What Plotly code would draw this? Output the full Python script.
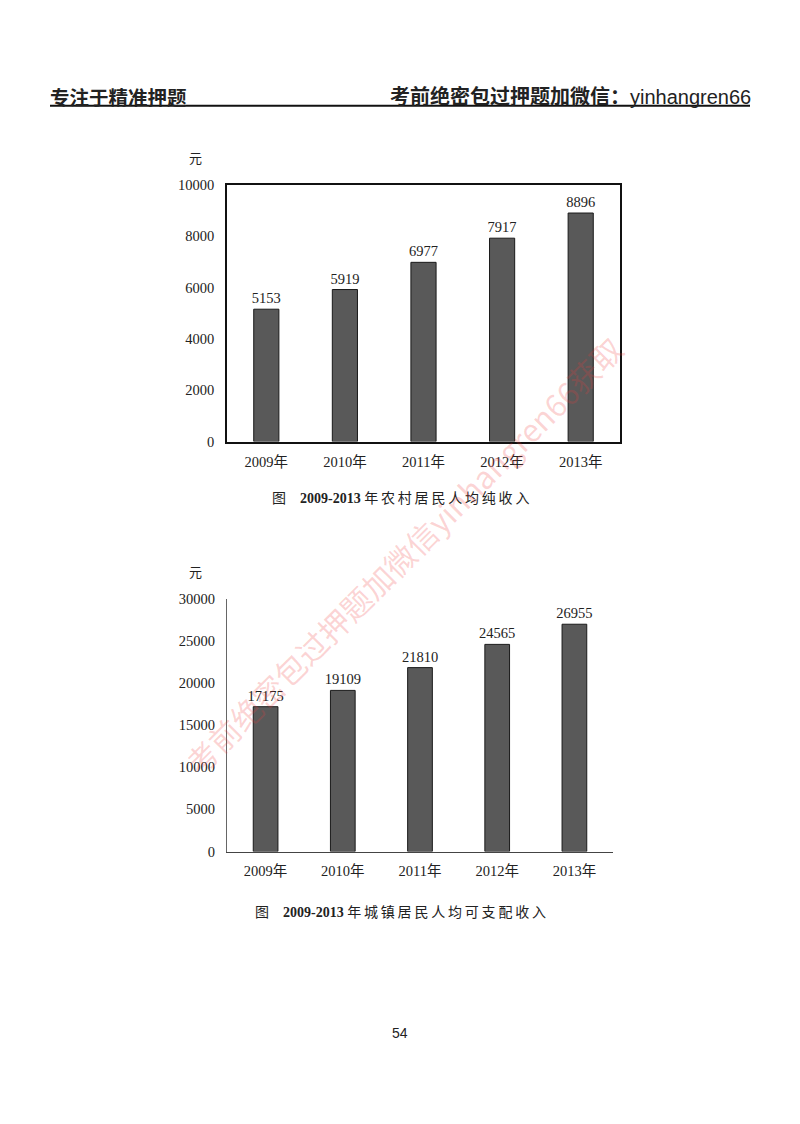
import plotly.graph_objects as go

years = ["2009年", "2010年", "2011年", "2012年", "2013年"]
rural_income = [5153, 5919, 6977, 7917, 8896]
urban_income = [17175, 19109, 21810, 24565, 26955]
rural_ticks = [0, 2000, 4000, 6000, 8000, 10000]
urban_ticks = [0, 5000, 10000, 15000, 20000, 25000, 30000]

W, H = 800, 1124
OFF = 8  # default page body margin
SERIF = "Liberation Serif, Noto Sans CJK SC, serif"
CJK = "Noto Sans CJK SC, sans-serif"
HEAD = "Liberation Sans, Noto Sans CJK SC, sans-serif"

def px(x):
    return (x - OFF) / W

def py(y):
    d = (y - 15.3) / 0.986
    return 1 - d / H

bar_style = dict(marker=dict(color="#595959", line=dict(color="#1a1a1a", width=1)),
                 textposition="outside", cliponaxis=False, constraintext="none",
                 textfont=dict(family=SERIF, size=14.5, color="#222"))

fig = go.Figure()
fig.add_trace(go.Bar(x=years, y=rural_income, text=[str(v) for v in rural_income],
                     xaxis="x", yaxis="y", **bar_style))
fig.add_trace(go.Bar(x=years, y=urban_income, text=[str(v) for v in urban_income],
                     xaxis="x2", yaxis="y2", **bar_style))

tickfont = dict(family=SERIF, size=14.5, color="#222")

fig.update_layout(
    width=W, height=H, margin=dict(l=0, r=0, t=0, b=0),
    paper_bgcolor="white", plot_bgcolor="white",
    showlegend=False, bargap=0.68,
    xaxis=dict(domain=[px(227), px(620)], anchor="y", showline=True, linecolor="#111",
               linewidth=1.5, mirror=True, ticks="outside", ticklen=6,
               tickcolor="rgba(0,0,0,0)", tickfont=tickfont, showgrid=False),
    yaxis=dict(domain=[py(441), py(184)], anchor="x", range=[0, 10000],
               tickvals=rural_ticks, tickformat="d", showline=True, linecolor="#111",
               linewidth=1.5, mirror=True, showgrid=False, zeroline=False, tickfont=tickfont,
               ticks="outside", ticklen=8, tickcolor="rgba(0,0,0,0)"),
    xaxis2=dict(domain=[px(227), px(613)], anchor="y2", showline=True, linecolor="#444",
                linewidth=1.2, ticks="outside", ticklen=6,
                tickcolor="rgba(0,0,0,0)", tickfont=tickfont, showgrid=False),
    yaxis2=dict(domain=[py(851), py(598)], anchor="x2", range=[0, 30000],
                tickvals=urban_ticks, tickformat="d", showline=True, linecolor="#666",
                linewidth=1.2, showgrid=False, zeroline=False, tickfont=tickfont,
                ticks="outside", ticklen=8, tickcolor="rgba(0,0,0,0)"),
)

ann = []
# header
ann.append(dict(x=px(48), y=py(96), xref="paper", yref="paper", xanchor="left", yanchor="middle",
                text="<b>专注于精准押题</b>", showarrow=False,
                font=dict(family=CJK, size=19.5, color="#222")))
ann.append(dict(x=px(753), y=py(96), xref="paper", yref="paper", xanchor="right", yanchor="middle",
                text="<b>考前绝密包过押题加微信：</b>yinhangren66", showarrow=False,
                font=dict(family=HEAD, size=20, color="#222")))
# unit labels
for yy in (157, 571):
    ann.append(dict(x=px(195), y=py(yy), xref="paper", yref="paper", xanchor="center",
                    yanchor="middle", text="元", showarrow=False,
                    font=dict(family=CJK, size=13, color="#222")))
# captions
sp = "\u2009"
cap1 = "图" + "\u2003" + "<b>2009-2013</b> " + sp.join("年农村居民人均纯收入")
cap2 = "图" + "\u2003" + "<b>2009-2013</b> " + sp.join("年城镇居民人均可支配收入")
ann.append(dict(x=px(400), y=py(498), xref="paper", yref="paper", xanchor="center", yanchor="middle",
                text=cap1, showarrow=False, font=dict(family=SERIF, size=14, color="#222")))
ann.append(dict(x=px(400), y=py(912), xref="paper", yref="paper", xanchor="center", yanchor="middle",
                text=cap2, showarrow=False, font=dict(family=SERIF, size=14, color="#222")))
# page number
ann.append(dict(x=px(400), y=py(1033), xref="paper", yref="paper", xanchor="center", yanchor="middle",
                text="54", showarrow=False, font=dict(family="Liberation Sans, sans-serif", size=14, color="#222")))
# watermark
ann.append(dict(x=px(403), y=py(555), xref="paper", yref="paper", xanchor="center", yanchor="middle",
                text="考前绝密包过押题加微信yinhangren66获取", textangle=-45, showarrow=False,
                font=dict(family=CJK, size=31, color="rgba(240,60,60,0.22)")))
fig.update_layout(annotations=ann)

fig.add_shape(type="line", xref="paper", yref="paper", x0=px(50), x1=px(750),
              y0=py(105), y1=py(105), line=dict(color="#111", width=2))

fig.write_html("out.html")
